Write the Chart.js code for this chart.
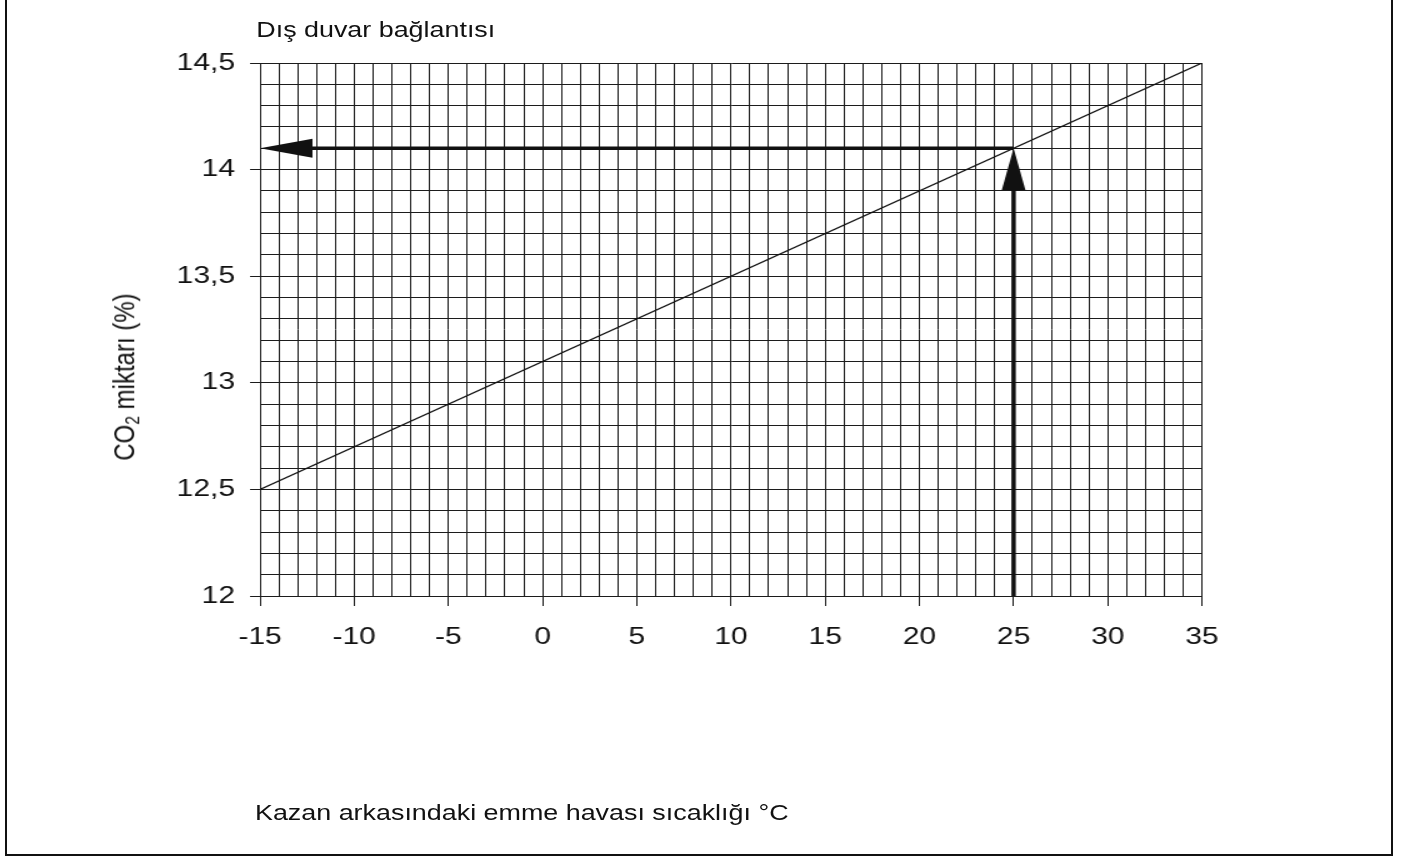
<!DOCTYPE html>
<html lang="tr">
<head>
<meta charset="utf-8">
<script src="https://cdn.jsdelivr.net/npm/chart.js@4.4.1/dist/chart.umd.min.js"></script>
<style>
  html, body { margin: 0; padding: 0; background: #fff; }
  body { width: 1404px; height: 856px; overflow: hidden; position: relative;
         font-family: "Liberation Sans", Arial, sans-serif; color: #111; }
  #frame { position: absolute; left: 5px; top: -5px; width: 1388px; height: 861px;
           border: 2px solid #111; box-sizing: border-box; }
  /* the reference is stretched horizontally, so the whole drawing is too */
  #stage { position: absolute; left: 0; top: 0; width: 1124px; height: 856px;
           transform: scaleX(1.25); transform-origin: 0 0; }
  #stage canvas { position: absolute; left: 0; top: 0; }
  .t { position: absolute; white-space: nowrap; line-height: 1; font-size: 21.5px; }
  #title { left: 205px; top: 20px; }
  #xtitle { left: 204px; top: 803px; }
  #ytitle { left: 99px; top: 377px; font-size: 24px;
            transform: translate(-50%, -50%) rotate(-90deg); }
  sub { font-size: 0.65em; vertical-align: -0.3em; line-height: 0; }
</style>
</head>
<body>
<div id="frame"></div>
<div id="stage">
  <canvas id="chart" width="1124" height="856"></canvas>
  <div class="t" id="title">Dış duvar bağlantısı</div>
  <div class="t" id="xtitle">Kazan arkasındaki emme havası sıcaklığı °C</div>
  <div class="t" id="ytitle">CO<sub>2</sub> miktarı (%)</div>
</div>
<script>
// ---------- Data ----------
const tempC = [-15, 35];          // suction air temperature
const co2Pct = [12.5, 14.5];      // CO2 content

// reading example: 25 °C -> 14,1 %
const upTemp = [25, 25];
const upCo2 = [12, 14.1];
const leftTemp = [25, -15];
const leftCo2 = [14.1, 14.1];

const xTickLabels = [-15, -10, -5, 0, 5, 10, 15, 20, 25, 30, 35];
const yTickLabels = [12, 12.5, 13, 13.5, 14, 14.5];

// ---------- Helpers ----------
const ink = "#111";
const gridInk = "#1c1c1c";
const fontFamily = '"Liberation Sans", Arial, sans-serif';

const isIn = (list, v) => list.some(t => Math.abs(t - v) < 1e-6);
const pts = (xs, ys) => xs.map((x, i) => ({ x: x, y: ys[i] }));
const fmtComma = v => String(Math.round(v * 10) / 10).replace(".", ",");

// draws shaft + arrow head for datasets flagged with arrow:true
const arrowPlugin = {
  id: "arrows",
  afterDatasetsDraw(chart) {
    const ctx = chart.ctx;
    chart.data.datasets.forEach((ds, i) => {
      if (!ds.arrow) return;
      const d = chart.getDatasetMeta(i).data;
      const q = d[0], p = d[d.length - 1];
      const len = Math.hypot(p.x - q.x, p.y - q.y);
      const ux = (p.x - q.x) / len, uy = (p.y - q.y) / len;
      const headLen = 42, headHalf = 9.5;
      const bx = p.x - ux * headLen, by = p.y - uy * headLen;
      ctx.save();
      ctx.strokeStyle = ink;
      ctx.fillStyle = ink;
      ctx.lineWidth = 3.5;
      ctx.lineCap = "butt";
      ctx.beginPath();
      ctx.moveTo(q.x, q.y);
      ctx.lineTo(bx + ux, by + uy);
      ctx.stroke();
      ctx.beginPath();
      ctx.moveTo(p.x, p.y);
      ctx.lineTo(bx - uy * headHalf, by + ux * headHalf);
      ctx.lineTo(bx + uy * headHalf, by - ux * headHalf);
      ctx.closePath();
      ctx.fill();
      ctx.restore();
    });
  }
};

// ---------- Chart ----------
new Chart(document.getElementById("chart"), {
  type: "scatter",
  data: {
    datasets: [
      {
        data: pts(tempC, co2Pct),
        showLine: true,
        borderColor: ink,
        borderWidth: 1.3,
        pointRadius: 0
      },
      { data: pts(upTemp, upCo2), arrow: true, showLine: false, pointRadius: 0 },
      { data: pts(leftTemp, leftCo2), arrow: true, showLine: false, pointRadius: 0 }
    ]
  },
  options: {
    responsive: false,
    animation: false,
    events: [],
    layout: { padding: { left: 108, top: 63, right: 162.4, bottom: 200 } },
    plugins: { legend: { display: false }, tooltip: { enabled: false } },
    scales: {
      x: {
        type: "linear",
        min: xTickLabels[0],
        max: xTickLabels[xTickLabels.length - 1],
        afterFit: s => { s.height = 60; },
        border: { color: gridInk, width: 1 },
        grid: {
          color: gridInk,
          lineWidth: 1,
          tickLength: 10,
          tickColor: c => (c.tick && isIn(xTickLabels, c.tick.value)) ? gridInk : "rgba(0,0,0,0)"
        },
        ticks: {
          stepSize: 1,
          autoSkip: false,
          maxRotation: 0,
          minRotation: 0,
          padding: 17,
          color: ink,
          font: { family: fontFamily, size: 24 },
          callback: v => isIn(xTickLabels, v) ? String(v) : ""
        }
      },
      y: {
        type: "linear",
        min: yTickLabels[0],
        max: yTickLabels[yTickLabels.length - 1],
        afterFit: s => { s.width = 100; },
        border: { color: gridInk, width: 1 },
        grid: {
          color: gridInk,
          lineWidth: 1,
          tickLength: 8,
          tickColor: c => (c.tick && isIn(yTickLabels, c.tick.value)) ? gridInk : "rgba(0,0,0,0)"
        },
        ticks: {
          stepSize: 0.1,
          autoSkip: false,
          padding: 12,
          color: ink,
          font: { family: fontFamily, size: 24 },
          callback: v => isIn(yTickLabels, v) ? fmtComma(v) : ""
        }
      }
    }
  },
  plugins: [arrowPlugin]
});
</script>
</body>
</html>
